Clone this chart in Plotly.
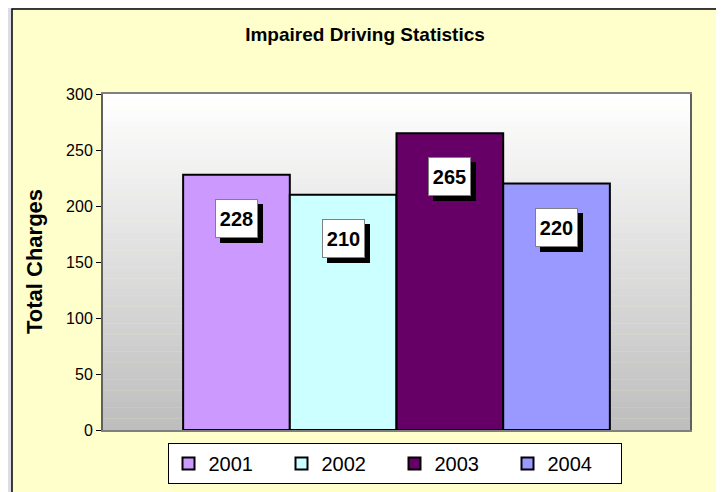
import plotly.graph_objects as go

# chart data
years = ['2001', '2002', '2003', '2004']
charges = [228, 210, 265, 220]
bar_colors = ['#CC99FF', '#CCFFFF', '#660066', '#9999FF']
y_ticks = [0, 50, 100, 150, 200, 250, 300]

# the page body adds an 8px margin, so the figure is laid out 8px smaller
OFF = 8
W, H = 724 - OFF, 492 - OFF
L, R, T, B = 103 - OFF, 34, 94 - OFF, 62
FONT = 'Liberation Sans, Arial, sans-serif'
GAP = 0.273


def px_x(px):
    # reference-image pixel -> paper x
    return (px - OFF - L) / (W - L - R)


def px_y(py):
    return (H - B - (py - OFF)) / (H - T - B)


fig = go.Figure()

for yr, val, col in zip(years, charges, bar_colors):
    fig.add_trace(go.Bar(
        x=['Charges'], y=[val], name=yr,
        marker=dict(color=col, line=dict(color='black', width=2)),
        hoverinfo='skip'
    ))

# value labels: white box with black drop shadow, centred on each bar
n = len(charges)
group_w = 1 - GAP
shapes = []
annotations = []
for i, val in enumerate(charges):
    xc = -group_w / 2 + (i + 0.5) * group_w / n
    common = dict(x=xc, y=val, xref='x', yref='y', yanchor='top', showarrow=False,
                  text='<b>%d</b>' % val, font=dict(family=FONT, size=20, color='black'),
                  width=33, height=29, borderpad=4, borderwidth=1)
    annotations.append(dict(common, xshift=5, yshift=-29, bgcolor='black', bordercolor='black'))
    annotations.append(dict(common, yshift=-24, bgcolor='white', bordercolor='#808080'))

annotations.append(dict(
    text='<b>Total Charges</b>', textangle=-90, showarrow=False,
    x=px_x(34), y=0.5, xref='paper', yref='paper',
    xanchor='center', yanchor='middle',
    font=dict(family=FONT, size=22, color='black')
))

# outer background and chart frame
shapes.append(dict(type='rect', xref='paper', yref='paper', layer='below',
                   x0=px_x(-5), x1=px_x(730), y0=px_y(-5), y1=px_y(500),
                   fillcolor='#DCDCE6', line=dict(width=0)))
shapes.append(dict(type='rect', xref='paper', yref='paper', layer='below',
                   x0=px_x(12), x1=px_x(718), y0=px_y(9), y1=px_y(520),
                   fillcolor='#FFFFCC', line=dict(color='black', width=1.5)))

# plot-area gradient (white at top to grey at bottom)
steps = 60
for k in range(steps):
    f = k / (steps - 1)
    c = int(round(255 - (255 - 190) * f))
    shapes.append(dict(type='rect', xref='x domain', yref='y domain', layer='below',
                       x0=0, x1=1, y0=1 - (k + 1) / steps, y1=1 - k / steps + 0.001,
                       fillcolor='rgb(%d,%d,%d)' % (c, c, c), line=dict(width=0)))

fig.update_layout(
    width=W, height=H,
    margin=dict(l=L, r=R, t=T, b=B, autoexpand=False),
    paper_bgcolor='#FFFFCC',
    plot_bgcolor='white',
    barmode='group', bargap=GAP, bargroupgap=0,
    title=dict(text='<b>Impaired Driving Statistics</b>', x=(365 - OFF) / W, xref='container',
               xanchor='center', y=1 - (34 - OFF) / H, yref='container', yanchor='middle',
               font=dict(family=FONT, size=19, color='black')),
    xaxis=dict(showticklabels=False, ticks='', showgrid=False, zeroline=False,
               showline=True, linecolor='#808080', linewidth=2, mirror=True),
    yaxis=dict(range=[0, 300], tickvals=y_ticks, ticks='outside', ticklen=5,
               tickcolor='black', showgrid=False, zeroline=False,
               showline=True, linecolor='#606060', linewidth=2, mirror=True,
               tickfont=dict(family=FONT, size=16, color='black')),
    legend=dict(orientation='h', x=(394.5 - OFF) / W, xref='container', xanchor='center',
                y=1 - (443 - OFF) / H, yref='container', yanchor='top',
                bgcolor='white', bordercolor='black', borderwidth=1,
                entrywidth=68, entrywidthmode='pixels',
                font=dict(family=FONT, size=20, color='black')),
    shapes=shapes,
    annotations=annotations,
    showlegend=True
)

fig.write_html('out.html')
